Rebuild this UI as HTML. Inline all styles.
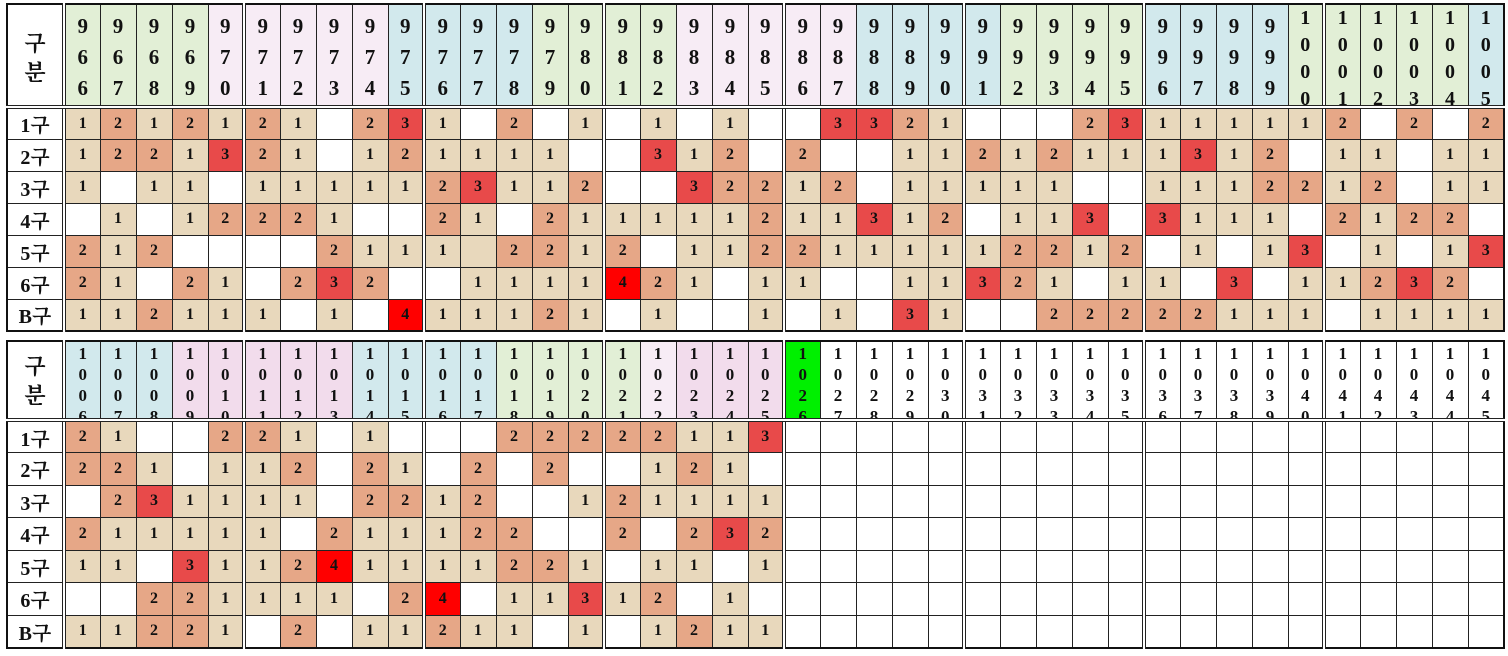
<!DOCTYPE html>
<html><head><meta charset="utf-8">
<style>
body{margin:0;width:1508px;height:656px;background:#fff;position:relative;overflow:hidden}
table{position:absolute;left:6px;width:1497px;border-collapse:collapse;table-layout:fixed;font-family:"Liberation Serif","Noto Serif CJK SC",serif;font-weight:bold;border:2px solid #111;color:#111}
td,th{border:1px solid #222;padding:0;text-align:center;overflow:hidden;font-size:16px}
td:nth-child(5n+2),th:nth-child(5n+2){border-left:4px double #222}
thead th{border-bottom:4px double #222;vertical-align:top}
tbody td:first-child{font-size:20px;background:#fff}
#t1{top:3px}#t2{top:340px}
#t1 tbody tr{height:32px}#t2 tbody tr{height:32.5px}
.h{height:100px;font-size:21px;line-height:31px;padding-top:6px;box-sizing:border-box;overflow:hidden}
.h4{height:100px;font-size:20px;line-height:27px;overflow:hidden}
.hb{height:76px;font-size:17px;line-height:21px;overflow:hidden;padding-top:1px;box-sizing:border-box}
.lab{font-size:22px;line-height:29px;padding-top:24px;box-sizing:border-box;height:100px}
.labb{font-size:22px;line-height:29px;padding-top:10px;box-sizing:border-box;height:76px}
.G{background:#e2efd6}.P{background:#f7ecf5}.B{background:#d2e9ed}.Q{background:#f2dcec}.L{background:#00f000}
.a,.e{background:#e8d8bc}.b{background:#e6a787}.c{background:#e84a4a}.d{background:#ff0000}
</style></head><body>
<table id="t1">
<colgroup><col style="width:57px"><col span="40" style="width:36px"></colgroup>
<thead><tr style="height:100px"><th><div class="lab">구<br>분</div></th>
<th class="G"><div class="h">9<br>6<br>6</div></th><th class="G"><div class="h">9<br>6<br>7</div></th><th class="G"><div class="h">9<br>6<br>8</div></th><th class="G"><div class="h">9<br>6<br>9</div></th><th class="P"><div class="h">9<br>7<br>0</div></th>
<th class="P"><div class="h">9<br>7<br>1</div></th><th class="P"><div class="h">9<br>7<br>2</div></th><th class="P"><div class="h">9<br>7<br>3</div></th><th class="P"><div class="h">9<br>7<br>4</div></th><th class="B"><div class="h">9<br>7<br>5</div></th>
<th class="B"><div class="h">9<br>7<br>6</div></th><th class="B"><div class="h">9<br>7<br>7</div></th><th class="B"><div class="h">9<br>7<br>8</div></th><th class="G"><div class="h">9<br>7<br>9</div></th><th class="G"><div class="h">9<br>8<br>0</div></th>
<th class="G"><div class="h">9<br>8<br>1</div></th><th class="G"><div class="h">9<br>8<br>2</div></th><th class="P"><div class="h">9<br>8<br>3</div></th><th class="P"><div class="h">9<br>8<br>4</div></th><th class="P"><div class="h">9<br>8<br>5</div></th>
<th class="P"><div class="h">9<br>8<br>6</div></th><th class="P"><div class="h">9<br>8<br>7</div></th><th class="B"><div class="h">9<br>8<br>8</div></th><th class="B"><div class="h">9<br>8<br>9</div></th><th class="B"><div class="h">9<br>9<br>0</div></th>
<th class="B"><div class="h">9<br>9<br>1</div></th><th class="G"><div class="h">9<br>9<br>2</div></th><th class="G"><div class="h">9<br>9<br>3</div></th><th class="G"><div class="h">9<br>9<br>4</div></th><th class="G"><div class="h">9<br>9<br>5</div></th>
<th class="B"><div class="h">9<br>9<br>6</div></th><th class="B"><div class="h">9<br>9<br>7</div></th><th class="B"><div class="h">9<br>9<br>8</div></th><th class="B"><div class="h">9<br>9<br>9</div></th><th class="G"><div class="h4">1<br>0<br>0<br>0</div></th>
<th class="G"><div class="h4">1<br>0<br>0<br>1</div></th><th class="G"><div class="h4">1<br>0<br>0<br>2</div></th><th class="G"><div class="h4">1<br>0<br>0<br>3</div></th><th class="G"><div class="h4">1<br>0<br>0<br>4</div></th><th class="B"><div class="h4">1<br>0<br>0<br>5</div></th>
</tr></thead>
<tbody>
<tr><td>1구<td class=a>1<td class=b>2<td class=a>1<td class=b>2<td class=a>1<td class=b>2<td class=a>1<td><td class=b>2<td class=c>3<td class=a>1<td><td class=b>2<td><td class=a>1<td><td class=a>1<td><td class=a>1<td><td><td class=c>3<td class=c>3<td class=b>2<td class=a>1<td><td><td><td class=b>2<td class=c>3<td class=a>1<td class=a>1<td class=a>1<td class=a>1<td class=a>1<td class=b>2<td><td class=b>2<td><td class=b>2</tr>
<tr><td>2구<td class=a>1<td class=b>2<td class=b>2<td class=a>1<td class=c>3<td class=b>2<td class=a>1<td><td class=a>1<td class=b>2<td class=a>1<td class=a>1<td class=a>1<td class=a>1<td><td><td class=c>3<td class=a>1<td class=b>2<td><td class=b>2<td><td><td class=a>1<td class=a>1<td class=b>2<td class=a>1<td class=b>2<td class=a>1<td class=a>1<td class=a>1<td class=c>3<td class=a>1<td class=b>2<td><td class=a>1<td class=a>1<td><td class=a>1<td class=a>1</tr>
<tr><td>3구<td class=a>1<td><td class=a>1<td class=a>1<td><td class=a>1<td class=a>1<td class=a>1<td class=a>1<td class=a>1<td class=b>2<td class=c>3<td class=a>1<td class=a>1<td class=b>2<td><td><td class=c>3<td class=b>2<td class=b>2<td class=a>1<td class=b>2<td><td class=a>1<td class=a>1<td class=a>1<td class=a>1<td class=a>1<td><td><td class=a>1<td class=a>1<td class=a>1<td class=b>2<td class=b>2<td class=a>1<td class=b>2<td><td class=a>1<td class=a>1</tr>
<tr><td>4구<td><td class=a>1<td><td class=a>1<td class=b>2<td class=b>2<td class=b>2<td class=a>1<td><td><td class=b>2<td class=a>1<td><td class=b>2<td class=a>1<td class=a>1<td class=a>1<td class=a>1<td class=a>1<td class=b>2<td class=a>1<td class=a>1<td class=c>3<td class=a>1<td class=b>2<td><td class=a>1<td class=a>1<td class=c>3<td><td class=c>3<td class=a>1<td class=a>1<td class=a>1<td><td class=b>2<td class=a>1<td class=b>2<td class=b>2<td></tr>
<tr><td>5구<td class=b>2<td class=a>1<td class=b>2<td><td><td><td><td class=b>2<td class=a>1<td class=a>1<td class=a>1<td class=e><td class=b>2<td class=b>2<td class=a>1<td class=b>2<td><td class=a>1<td class=a>1<td class=b>2<td class=b>2<td class=a>1<td class=a>1<td class=a>1<td class=a>1<td class=a>1<td class=b>2<td class=b>2<td class=a>1<td class=b>2<td><td class=a>1<td><td class=a>1<td class=c>3<td><td class=a>1<td><td class=a>1<td class=c>3</tr>
<tr><td>6구<td class=b>2<td class=a>1<td><td class=b>2<td class=a>1<td><td class=b>2<td class=c>3<td class=b>2<td><td><td class=a>1<td class=a>1<td class=a>1<td class=a>1<td class=d>4<td class=b>2<td class=a>1<td><td class=a>1<td class=a>1<td><td><td class=a>1<td class=a>1<td class=c>3<td class=b>2<td class=a>1<td><td class=a>1<td class=a>1<td><td class=c>3<td><td class=a>1<td class=a>1<td class=b>2<td class=c>3<td class=b>2<td></tr>
<tr><td>B구<td class=a>1<td class=a>1<td class=b>2<td class=a>1<td class=a>1<td class=a>1<td><td class=a>1<td><td class=d>4<td class=a>1<td class=a>1<td class=a>1<td class=b>2<td class=a>1<td><td class=a>1<td><td><td class=a>1<td><td class=a>1<td><td class=c>3<td class=a>1<td><td><td class=b>2<td class=b>2<td class=b>2<td class=b>2<td class=b>2<td class=a>1<td class=a>1<td class=a>1<td><td class=a>1<td class=a>1<td class=a>1<td class=a>1</tr>
</tbody></table>

<table id="t2">
<colgroup><col style="width:57px"><col span="40" style="width:36px"></colgroup>
<thead><tr style="height:76px"><th><div class="labb">구<br>분</div></th>
<th class="B"><div class="hb">1<br>0<br>0<br>6</div></th><th class="B"><div class="hb">1<br>0<br>0<br>7</div></th><th class="B"><div class="hb">1<br>0<br>0<br>8</div></th><th class="Q"><div class="hb">1<br>0<br>0<br>9</div></th><th class="Q"><div class="hb">1<br>0<br>1<br>0</div></th>
<th class="Q"><div class="hb">1<br>0<br>1<br>1</div></th><th class="Q"><div class="hb">1<br>0<br>1<br>2</div></th><th class="Q"><div class="hb">1<br>0<br>1<br>3</div></th><th class="B"><div class="hb">1<br>0<br>1<br>4</div></th><th class="B"><div class="hb">1<br>0<br>1<br>5</div></th>
<th class="B"><div class="hb">1<br>0<br>1<br>6</div></th><th class="B"><div class="hb">1<br>0<br>1<br>7</div></th><th class="G"><div class="hb">1<br>0<br>1<br>8</div></th><th class="G"><div class="hb">1<br>0<br>1<br>9</div></th><th class="G"><div class="hb">1<br>0<br>2<br>0</div></th>
<th class="G"><div class="hb">1<br>0<br>2<br>1</div></th><th class="P"><div class="hb">1<br>0<br>2<br>2</div></th><th class="Q"><div class="hb">1<br>0<br>2<br>3</div></th><th class="Q"><div class="hb">1<br>0<br>2<br>4</div></th><th class="Q"><div class="hb">1<br>0<br>2<br>5</div></th>
<th class="L"><div class="hb">1<br>0<br>2<br>6</div></th><th><div class="hb">1<br>0<br>2<br>7</div></th><th><div class="hb">1<br>0<br>2<br>8</div></th><th><div class="hb">1<br>0<br>2<br>9</div></th><th><div class="hb">1<br>0<br>3<br>0</div></th>
<th><div class="hb">1<br>0<br>3<br>1</div></th><th><div class="hb">1<br>0<br>3<br>2</div></th><th><div class="hb">1<br>0<br>3<br>3</div></th><th><div class="hb">1<br>0<br>3<br>4</div></th><th><div class="hb">1<br>0<br>3<br>5</div></th>
<th><div class="hb">1<br>0<br>3<br>6</div></th><th><div class="hb">1<br>0<br>3<br>7</div></th><th><div class="hb">1<br>0<br>3<br>8</div></th><th><div class="hb">1<br>0<br>3<br>9</div></th><th><div class="hb">1<br>0<br>4<br>0</div></th>
<th><div class="hb">1<br>0<br>4<br>1</div></th><th><div class="hb">1<br>0<br>4<br>2</div></th><th><div class="hb">1<br>0<br>4<br>3</div></th><th><div class="hb">1<br>0<br>4<br>4</div></th><th><div class="hb">1<br>0<br>4<br>5</div></th>
</tr></thead>
<tbody>
<tr><td>1구<td class=b>2<td class=a>1<td><td><td class=b>2<td class=b>2<td class=a>1<td><td class=a>1<td><td><td><td class=b>2<td class=b>2<td class=b>2<td class=b>2<td class=b>2<td class=a>1<td class=a>1<td class=c>3<td><td><td><td><td><td><td><td><td><td><td><td><td><td><td><td><td><td><td><td></tr>
<tr><td>2구<td class=b>2<td class=b>2<td class=a>1<td><td class=a>1<td class=a>1<td class=b>2<td><td class=b>2<td class=a>1<td><td class=b>2<td><td class=b>2<td><td><td class=a>1<td class=b>2<td class=a>1<td><td><td><td><td><td><td><td><td><td><td><td><td><td><td><td><td><td><td><td><td></tr>
<tr><td>3구<td><td class=b>2<td class=c>3<td class=a>1<td class=a>1<td class=a>1<td class=a>1<td><td class=b>2<td class=b>2<td class=a>1<td class=b>2<td><td><td class=a>1<td class=b>2<td class=a>1<td class=a>1<td class=a>1<td class=a>1<td><td><td><td><td><td><td><td><td><td><td><td><td><td><td><td><td><td><td><td></tr>
<tr><td>4구<td class=b>2<td class=a>1<td class=a>1<td class=a>1<td class=a>1<td class=a>1<td><td class=b>2<td class=a>1<td class=a>1<td class=a>1<td class=b>2<td class=b>2<td><td><td class=b>2<td><td class=b>2<td class=c>3<td class=b>2<td><td><td><td><td><td><td><td><td><td><td><td><td><td><td><td><td><td><td><td></tr>
<tr><td>5구<td class=a>1<td class=a>1<td><td class=c>3<td class=a>1<td class=a>1<td class=b>2<td class=d>4<td class=a>1<td class=a>1<td class=a>1<td class=a>1<td class=b>2<td class=b>2<td class=a>1<td><td class=a>1<td class=a>1<td><td class=a>1<td><td><td><td><td><td><td><td><td><td><td><td><td><td><td><td><td><td><td><td></tr>
<tr><td>6구<td><td><td class=b>2<td class=b>2<td class=a>1<td class=a>1<td class=a>1<td class=a>1<td><td class=b>2<td class=d>4<td><td class=a>1<td class=a>1<td class=c>3<td class=a>1<td class=b>2<td><td class=a>1<td><td><td><td><td><td><td><td><td><td><td><td><td><td><td><td><td><td><td><td><td></tr>
<tr><td>B구<td class=a>1<td class=a>1<td class=b>2<td class=b>2<td class=a>1<td><td class=b>2<td><td class=a>1<td class=a>1<td class=b>2<td class=a>1<td class=a>1<td><td class=a>1<td><td class=a>1<td class=b>2<td class=a>1<td class=a>1<td><td><td><td><td><td><td><td><td><td><td><td><td><td><td><td><td><td><td><td></tr>
</tbody></table>
</body></html>
